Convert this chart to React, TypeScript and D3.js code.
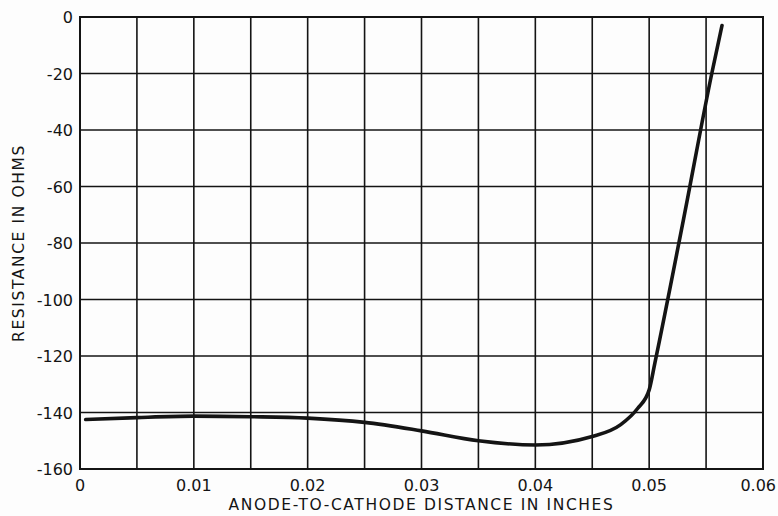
import { useEffect, useRef } from "react";
import * as d3 from "d3";

// distance (inches) vs resistance (ohms)
const distance = [
  0.0005, 0.005, 0.01, 0.015, 0.02, 0.025, 0.03, 0.035, 0.04, 0.045,
  0.0475, 0.049, 0.05, 0.0505, 0.053, 0.0555, 0.0564,
];
const resistance = [
  -142.5, -141.8, -141.3, -141.5, -142, -143.5, -146.5, -150, -151.5, -148.5,
  -144.3, -138.5, -132, -122.5, -72, -20, -3,
];

const xTickValues = [0, 0.01, 0.02, 0.03, 0.04, 0.05, 0.06];
const xTickLabels = ["0", "0.01", "0.02", "0.03", "0.04", "0.05", "0.06"];
const yTickValues = [0, -20, -40, -60, -80, -100, -120, -140, -160];
const yTickLabels = ["0", "-20", "-40", "-60", "-80", "-100", "-120", "-140", "-160"];
const xGrid = d3.range(0, 13).map((i) => i * 0.005);

const W = 778;
const H = 516;
const INK = "#141414";
const FONT = "'DejaVu Sans', Verdana, sans-serif";

export default function App() {
  const svgRef = useRef<SVGSVGElement>(null);

  useEffect(() => {
    if (!svgRef.current) return;
    const svg = d3.select(svgRef.current);
    svg.selectAll("*").remove();

    const margin = { top: 17, right: 15, bottom: 47, left: 80 };
    const x = d3.scaleLinear().domain([0, 0.06]).range([margin.left, W - margin.right]);
    const y = d3.scaleLinear().domain([-160, 0]).range([H - margin.bottom, margin.top]);

    svg.append("rect").attr("width", W).attr("height", H).attr("fill", "#fdfdfd");

    // grid
    const g = svg.append("g").attr("stroke", INK).attr("stroke-width", 1.6);
    g.selectAll(".vx")
      .data(xGrid)
      .enter()
      .append("line")
      .attr("x1", (d) => x(d))
      .attr("x2", (d) => x(d))
      .attr("y1", y(0))
      .attr("y2", y(-160));
    g.selectAll(".hy")
      .data(yTickValues)
      .enter()
      .append("line")
      .attr("x1", x(0))
      .attr("x2", x(0.06))
      .attr("y1", (d) => y(d))
      .attr("y2", (d) => y(d));
    g.append("rect")
      .attr("x", x(0))
      .attr("y", y(0))
      .attr("width", x(0.06) - x(0))
      .attr("height", y(-160) - y(0))
      .attr("fill", "none")
      .attr("stroke-width", 2);

    // curve
    const pts = distance.map((d, i) => [d, resistance[i]] as [number, number]);
    const line = d3
      .line<[number, number]>()
      .x((d) => x(d[0]))
      .y((d) => y(d[1]))
      .curve(d3.curveMonotoneX);
    svg.append("path")
      .attr("d", line(pts))
      .attr("fill", "none")
      .attr("stroke", INK)
      .attr("stroke-width", 3.6)
      .attr("stroke-linecap", "round");

    // tick labels (last one kept inside the page)
    const last = xTickValues.length - 1;
    svg.selectAll(".xt")
      .data(xTickValues)
      .enter()
      .append("text")
      .attr("x", (d, i) => (i === last ? W - 2 : x(d)))
      .attr("y", y(-160) + 22)
      .attr("text-anchor", (_, i) => (i === last ? "end" : "middle"))
      .attr("font-family", FONT)
      .attr("font-size", 16)
      .attr("fill", INK)
      .text((_, i) => xTickLabels[i]);

    svg.selectAll(".yt")
      .data(yTickValues)
      .enter()
      .append("text")
      .attr("x", x(0) - 7)
      .attr("y", (d) => y(d) + 6)
      .attr("text-anchor", "end")
      .attr("font-family", FONT)
      .attr("font-size", 16)
      .attr("fill", INK)
      .text((_, i) => yTickLabels[i]);

    // axis titles
    svg.append("text")
      .attr("x", (x(0) + x(0.06)) / 2)
      .attr("y", 510)
      .attr("text-anchor", "middle")
      .attr("font-family", FONT)
      .attr("font-size", 15.5)
      .attr("letter-spacing", 1.6)
      .attr("fill", INK)
      .text("ANODE-TO-CATHODE DISTANCE IN INCHES");

    svg.append("text")
      .attr("transform", `translate(24,${(y(0) + y(-160)) / 2}) rotate(-90)`)
      .attr("text-anchor", "middle")
      .attr("font-family", FONT)
      .attr("font-size", 15.5)
      .attr("letter-spacing", 1.6)
      .attr("fill", INK)
      .text("RESISTANCE IN OHMS");
  }, []);

  return (
    <svg
      ref={svgRef}
      width={W}
      height={H}
      style={{ position: "absolute", left: 0, top: 0, display: "block" }}
    />
  );
}
